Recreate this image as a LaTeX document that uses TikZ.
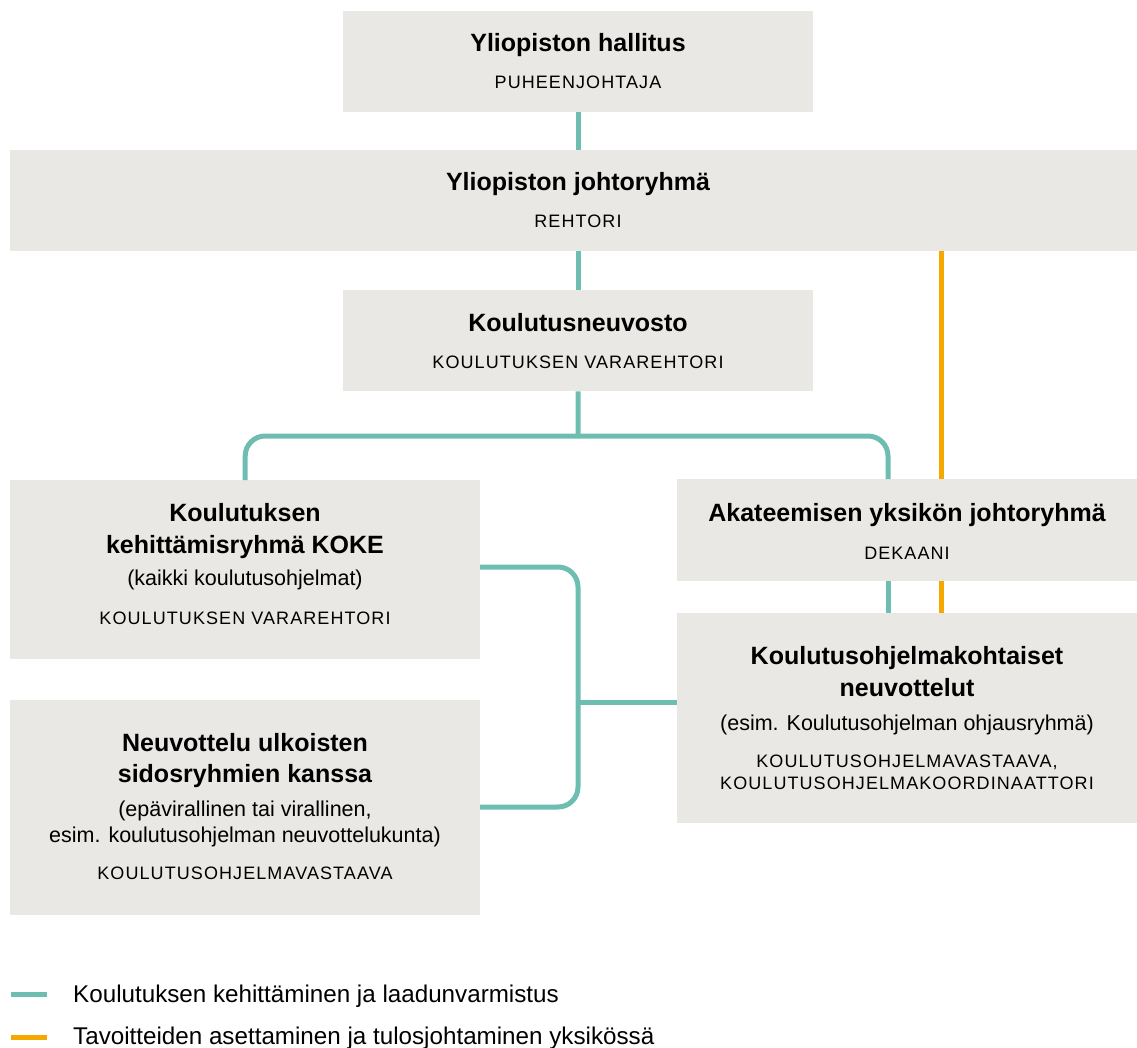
\documentclass[tikz,border=0pt]{standalone}
\usepackage{fontspec}
\setmainfont{Liberation Sans}
\newfontfamily\capsfont[LetterSpace=6]{Liberation Sans}
\usetikzlibrary{positioning}

\definecolor{boxgray}{HTML}{E9E8E4}
\definecolor{kehitys}{HTML}{6DBDB0}
\definecolor{tulos}{HTML}{F5A800}

\tikzset{
    box/.style={fill=boxgray, inner sep=0pt, anchor=north west},
    title/.style={font=\fontsize{25}{30}\selectfont\bfseries, anchor=base, inner sep=0pt},
    sub/.style={font=\fontsize{21.5}{26}\selectfont, anchor=base, inner sep=0pt},
    role/.style={font=\capsfont\fontsize{18}{21}\selectfont, anchor=base, inner sep=0pt},
    legend/.style={font=\fontsize{24.2}{28}\selectfont, anchor=base west, inner sep=0pt},
    kline/.style={line width=5pt, kehitys},
    tline/.style={line width=5pt, tulos}
}

\begin{document}
\begin{tikzpicture}[x=1pt, y=-1pt]

    \useasboundingbox (0,0) rectangle (1137,1048);

    % --- Boxes ---
    \node[box, minimum width=470pt, minimum height=101pt] (hallitus) at (343,11) {};
    \node[box, minimum width=1127pt, minimum height=101pt] (johto) at (10,150) {};
    \node[box, minimum width=470pt, minimum height=101pt] (neuvosto) at (343,290) {};
    \node[box, minimum width=470pt, minimum height=179pt] (koke) at (10,480) {};
    \node[box, minimum width=470pt, minimum height=215pt] (sidos) at (10,700) {};
    \node[box, minimum width=460pt, minimum height=102pt] (yksikko) at (677,479) {};
    \node[box, minimum width=460pt, minimum height=210pt] (ohjelma) at (677,613) {};

    % --- Texts ---
    \node[title] (hallitusT) at (578,52) {Yliopiston hallitus};
    \node[role] (hallitusR) at (578,89) {PUHEENJOHTAJA};

    \node[title] (johtoT) at (578,191) {Yliopiston johtoryhmä};
    \node[role] (johtoR) at (578,228) {REHTORI};

    \node[title] (neuvostoT) at (578,331) {Koulutusneuvosto};
    \node[role] (neuvostoR) at (578,368) {KOULUTUKSEN VARAREHTORI};

    \node[title] (kokeT1) at (245,521) {Koulutuksen};
    \node[title] (kokeT2) at (245,553) {kehittämisryhmä KOKE};
    \node[sub] (kokeS) at (245,585) {(kaikki koulutusohjelmat)};
    \node[role] (kokeR) at (245,624) {KOULUTUKSEN VARAREHTORI};

    \node[title] (sidosT1) at (245,751) {Neuvottelu ulkoisten};
    \node[title] (sidosT2) at (245,782) {sidosryhmien kanssa};
    \node[sub] (sidosS1) at (245,816) {(epävirallinen tai virallinen,};
    \node[sub] (sidosS2) at (245,842) {esim. koulutusohjelman neuvottelukunta)};
    \node[role] (sidosR) at (245,879) {KOULUTUSOHJELMAVASTAAVA};

    \node[title] (yksikkoT) at (907,521) {Akateemisen yksikön johtoryhmä};
    \node[role] (yksikkoR) at (907,559) {DEKAANI};

    \node[title] (ohjelmaT1) at (907,664) {Koulutusohjelmakohtaiset};
    \node[title] (ohjelmaT2) at (907,696) {neuvottelut};
    \node[sub] (ohjelmaS) at (907,730) {(esim. Koulutusohjelman ohjausryhmä)};
    \node[role] (ohjelmaR1) at (907,767) {KOULUTUSOHJELMAVASTAAVA,};
    \node[role] (ohjelmaR2) at (907,789) {KOULUTUSOHJELMAKOORDINAATTORI};

    % --- Connector points ---
    \coordinate (fork) at (578,436);
    \coordinate (join) at (578,702);
    \coordinate (yksK) at (888,479);
    \coordinate (yksT) at (941,479);
    \coordinate (kokeR) at (480,567);
    \coordinate (sidosR) at (480,807);

    % --- Koulutuksen kehittäminen (teal) ---
    \draw[kline] (hallitus.south) -- (hallitus.south |- johto.north);
    \draw[kline] (johto.south -| neuvosto.north) -- (neuvosto.north);
    \draw[kline] (neuvosto.south) -- (fork);
    \draw[kline, rounded corners=20pt] (koke.north) |- (fork) -| (yksK);
    \draw[kline] (yksikko.south -| yksK) -- (ohjelma.north -| yksK);
    \draw[kline, rounded corners=20pt] (kokeR) -| (join) |- (sidosR);
    \draw[kline] (join) -- (join -| ohjelma.west);

    % --- Tavoitteet ja tulosjohtaminen (orange) ---
    \draw[tline] (johto.south -| yksT) -- (yksT);
    \draw[tline] (yksikko.south -| yksT) -- (ohjelma.north -| yksT);

    % --- Legend ---
    \node[legend] (legK) at (73,1002) {Koulutuksen kehittäminen ja laadunvarmistus};
    \node[legend] (legT) at (73,1044) {Tavoitteiden asettaminen ja tulosjohtaminen yksikössä};
    \draw[kline] (11,994) -- (47,994);
    \draw[tline] (11,1037) -- (47,1037);

\end{tikzpicture}
\end{document}
